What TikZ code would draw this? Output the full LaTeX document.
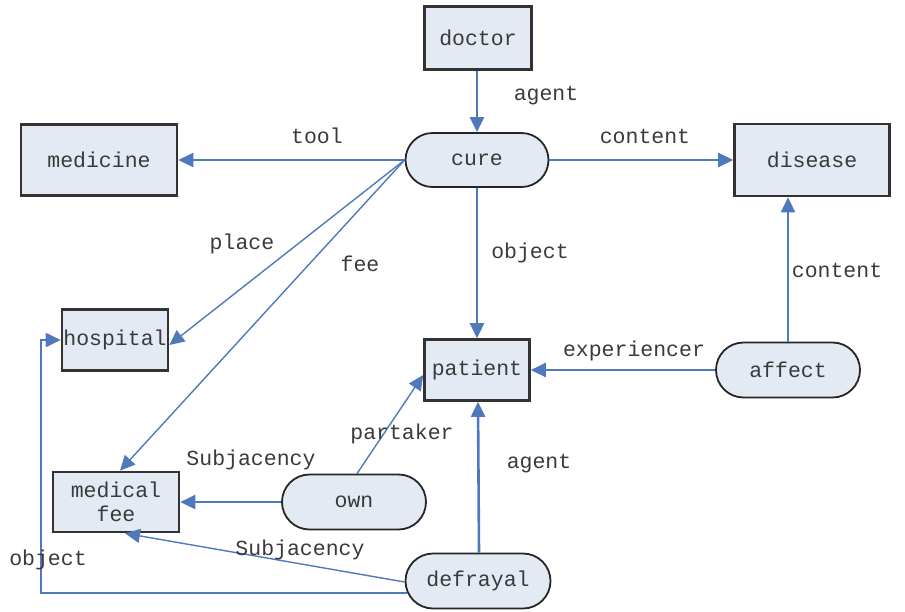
\documentclass[tikz,border=0pt]{standalone}
\usepackage{fontspec}
\newfontfamily\dfont{Liberation Mono}
\usetikzlibrary{shapes.misc,arrows.meta,calc}
\definecolor{nfill}{HTML}{E4EAF4}
\definecolor{acol}{HTML}{5079BC}
\definecolor{tcol}{HTML}{3A3A3A}
\tikzset{
  box/.style={draw=black!80,line width=2.6pt,fill=nfill,minimum width=#1,inner sep=0pt,text=tcol,align=center,font=\dfont\fontsize{21.5}{24}\selectfont},
  box/.default=106pt,
  pill/.style={draw=black!85,line width=1.8pt,fill=nfill,rounded rectangle,minimum width=144pt,minimum height=55pt,inner sep=0pt,text=tcol,font=\dfont\fontsize{21.5}{24}\selectfont},
  arr/.style={draw=acol,line width=2.6pt,-{Triangle[length=15pt,width=14pt]}},
  thin/.style={line width=1.4pt},
  lbl/.style={text=tcol,font=\dfont\fontsize{21.5}{24}\selectfont,inner sep=1pt}
}
\begin{document}
\begin{tikzpicture}[x=1pt,y=-1pt]
\useasboundingbox (0,0) rectangle (905,611);
% nodes
\node[box=107pt,minimum height=63pt] (doctor) at (478,38) {doctor};
\node[box=156pt,minimum height=71pt] (medicine) at (99,160) {medicine};
\node[pill,minimum width=143pt,minimum height=54pt] (cure) at (477,160) {cure};
\node[box=155pt,minimum height=72pt] (disease) at (812,160) {disease};
\node[box=106pt,minimum height=61pt] (hospital) at (115,340) {hospital};
\node[box=105pt,minimum height=61pt] (patient) at (477,370) {patient};
\node[pill,minimum width=144pt,minimum height=55pt] (affect) at (788,370) {affect};
\node[box=126pt,minimum height=60pt] (medfee) at (116,502) {medical\\fee};
\node[pill,minimum width=144pt,minimum height=55pt] (own) at (354,502) {own};
\node[pill,minimum width=145pt,minimum height=55pt] (defrayal) at (478,581) {defrayal};
% edges
\draw[arr] (doctor.south -| cure.north) -- (cure.north);
\draw[arr] (cure.west) -- (medicine.east);
\draw[arr] (cure.east) -- (disease.west);
\draw[arr,thin] (cure.west) -- ([yshift=-5pt]hospital.east);
\draw[arr,thin] (cure.west) -- ([xshift=4pt]medfee.north);
\draw[arr] (cure.south) -- (patient.north);
\draw[arr] (affect.north) -- (affect.north |- disease.south);
\draw[arr] (affect.west) -- (patient.east);
\draw[arr,thin] ([xshift=3pt]own.north) -- ([yshift=-5pt]patient.west);
\draw[arr] (own.west) -- (medfee.east);
\draw[arr] ([xshift=1pt]defrayal.north) -- ([xshift=1pt]patient.south);
\draw[arr,thin] ([yshift=-1pt]defrayal.west) -- ([xshift=9pt]medfee.south);
\draw[arr,line width=1.8pt] ([yshift=-12pt,xshift=2pt]defrayal.west) -| ([xshift=-20pt]hospital.west) -- (hospital.west);
% labels
\node[lbl] (l1) at (546,96) {agent};
\node[lbl] (l2) at (317,136) {tool};
\node[lbl] (l3) at (645,136) {content};
\node[lbl] (l4) at (242,244) {place};
\node[lbl] (l5) at (360,264) {fee};
\node[lbl] (l6) at (530,253) {object};
\node[lbl] (l7) at (837,270) {content};
\node[lbl] (l8) at (634,351) {experiencer};
\node[lbl] (l9) at (402,434) {partaker};
\node[lbl] (l10) at (251,460) {Subjacency};
\node[lbl] (l11) at (539,464) {agent};
\node[lbl] (l12) at (300,550) {Subjacency};
\node[lbl] (l13) at (48,560) {object};
\end{tikzpicture}
\end{document}
